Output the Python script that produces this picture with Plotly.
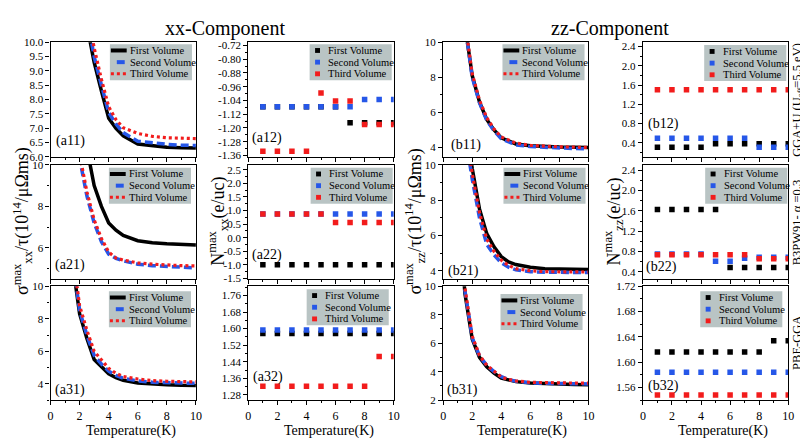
import plotly.graph_objects as go

W, H = 808, 438

# ---------------- data ----------------
T_CURVE = [1, 1.5, 2, 2.5, 3, 3.5, 4, 4.5, 5, 6, 7, 8, 9, 10]
T_POINTS = [1, 2, 3, 4, 5, 6, 7, 8, 9, 10]
SERIES = ["First Volume", "Second Volume", "Third Volume"]

# sigma_xx^max / tau  (xx-component)
a11_first = [30, 20, 13.5, 10.6, 9.3, 8.3, 7.35, 7.0, 6.74, 6.45, 6.38, 6.34, 6.32, 6.31]
a11_second = [30, 20, 14.0, 10.9, 9.5, 8.5, 7.55, 7.15, 6.85, 6.55, 6.48, 6.44, 6.41, 6.40]
a11_third = [30, 20, 14.5, 11.2, 9.8, 8.7, 7.75, 7.3, 7.02, 6.82, 6.72, 6.67, 6.65, 6.64]

a21_first = [30, 20, 14.0, 10.8, 9.0, 8.0, 7.2, 6.85, 6.6, 6.35, 6.25, 6.2, 6.16, 6.14]
a21_second = [30, 16.0, 10.3, 8.5, 7.2, 6.3, 5.7, 5.5, 5.38, 5.22, 5.15, 5.1, 5.06, 5.04]
a21_third = [30, 16.5, 10.5, 8.7, 7.35, 6.45, 5.8, 5.52, 5.42, 5.28, 5.22, 5.18, 5.15, 5.14]

a31_first = [20, 11.5, 8.3, 6.8, 5.5, 5.05, 4.62, 4.38, 4.22, 4.05, 3.98, 3.94, 3.91, 3.9]
a31_second = [20, 11.8, 8.5, 7.0, 5.75, 5.22, 4.78, 4.52, 4.35, 4.18, 4.1, 4.06, 4.04, 4.03]
a31_third = [20, 12.2, 8.8, 7.3, 6.0, 5.45, 4.95, 4.65, 4.45, 4.3, 4.2, 4.16, 4.13, 4.12]

# sigma_zz^max / tau  (zz-component)
b11_first = [25, 11.0, 8.1, 6.6, 5.6, 5.0, 4.55, 4.35, 4.2, 4.1, 4.05, 4.03, 4.02, 4.0]
b11_second = [25, 11.0, 8.0, 6.55, 5.55, 4.95, 4.5, 4.3, 4.15, 4.05, 4.0, 3.96, 3.94, 3.92]
b11_third = [25, 11.2, 8.2, 6.7, 5.7, 5.05, 4.6, 4.4, 4.25, 4.12, 4.07, 4.04, 4.02, 4.0]

b21_first = [25, 12.5, 9.8, 7.5, 6.1, 5.35, 4.8, 4.5, 4.35, 4.2, 4.12, 4.1, 4.08, 4.07]
b21_second = [25, 11.8, 9.2, 7.0, 5.5, 4.9, 4.45, 4.2, 4.05, 3.95, 3.92, 3.9, 3.9, 3.9]
b21_third = [25, 12.2, 9.5, 7.3, 5.8, 5.1, 4.6, 4.3, 4.12, 4.0, 3.95, 3.93, 3.93, 3.93]

b31_first = [16, 9.5, 6.3, 5.0, 4.35, 3.9, 3.55, 3.4, 3.3, 3.2, 3.15, 3.12, 3.1, 3.08]
b31_second = [16.5, 9.7, 6.4, 5.1, 4.45, 4.0, 3.65, 3.45, 3.33, 3.22, 3.18, 3.15, 3.14, 3.14]
b31_third = [17, 9.9, 6.5, 5.15, 4.45, 4.0, 3.62, 3.45, 3.35, 3.25, 3.22, 3.2, 3.2, 3.2]

# N_xx^max (e/uc)
a12_first = [-1.077, -1.077, -1.077, -1.077, -1.077, -1.077, -1.17, -1.17, -1.17, -1.17]
a12_second = [-1.077, -1.077, -1.077, -1.077, -1.077, -1.077, -1.077, -1.035, -1.035, -1.035]
a12_third = [-1.336, -1.336, -1.336, -1.336, -0.996, -1.043, -1.043, -1.18, -1.18, -1.18]

a22_first = [-0.99, -0.99, -0.99, -0.99, -0.99, -0.99, -0.99, -0.99, -0.99, -0.99]
a22_second = [0.87, 0.87, 0.87, 0.87, 0.87, 0.87, 0.87, 0.87, 0.87, 0.87]
a22_third = [0.87, 0.87, 0.87, 0.87, 0.87, 0.56, 0.56, 0.56, 0.56, 0.56]

a32_first = [1.576, 1.576, 1.576, 1.576, 1.576, 1.576, 1.576, 1.576, 1.576, 1.576]
a32_second = [1.593, 1.593, 1.593, 1.593, 1.593, 1.593, 1.593, 1.593, 1.593, 1.593]
a32_third = [1.322, 1.322, 1.322, 1.322, 1.322, 1.322, 1.322, 1.322, 1.465, 1.465]

# N_zz^max (e/uc)
b12_first = [0.306, 0.306, 0.306, 0.306, 0.38, 0.38, 0.38, 0.38, 0.38, 0.38]
b12_second = [0.495, 0.495, 0.495, 0.495, 0.495, 0.495, 0.495, 0.306, 0.306, 0.306]
b12_third = [1.5, 1.5, 1.5, 1.5, 1.5, 1.5, 1.5, 1.5, 1.5, 1.5]

b22_first = [1.627, 1.627, 1.627, 1.627, 1.627, 0.483, 0.483, 0.483, 0.483, 0.483]
b22_second = [0.752, 0.752, 0.752, 0.752, 0.605, 0.605, 0.668, 0.687, 0.687, 0.687]
b22_third = [0.733, 0.733, 0.733, 0.733, 0.733, 0.733, 0.733, 0.655, 0.655, 0.655]

b32_first = [1.616, 1.616, 1.616, 1.616, 1.616, 1.616, 1.616, 1.616, 1.634, 1.634]
b32_second = [1.584, 1.584, 1.584, 1.584, 1.584, 1.584, 1.584, 1.584, 1.584, 1.584]
b32_third = [1.548, 1.548, 1.548, 1.548, 1.548, 1.548, 1.548, 1.548, 1.548, 1.548]

# tick labels
x_ticks = [0, 2, 4, 6, 8, 10]
x_labels = ["0", "2", "4", "6", "8", "10"]
a11_yticks = [6.0, 6.5, 7.0, 7.5, 8.0, 8.5, 9.0, 9.5, 10.0]
a11_ylabels = ["6.0", "6.5", "7.0", "7.5", "8.0", "8.5", "9.0", "9.5", "10.0"]
a21_yticks = [6, 8, 10]
a21_ylabels = ["6", "8", "10"]
a31_yticks = [4, 6, 8, 10]
a31_ylabels = ["4", "6", "8", "10"]
b11_yticks = [4, 6, 8, 10]
b11_ylabels = ["4", "6", "8", "10"]
b21_yticks = [4, 6, 8, 10]
b21_ylabels = ["4", "6", "8", "10"]
b31_yticks = [2, 4, 6, 8, 10]
b31_ylabels = ["2", "4", "6", "8", "10"]
a12_yticks = [-1.36, -1.28, -1.20, -1.12, -1.04, -0.96, -0.88, -0.80, -0.72]
a12_ylabels = ["-1.36", "-1.28", "-1.20", "-1.12", "-1.04", "-0.96", "-0.88", "-0.80", "-0.72"]
a22_yticks = [-1.5, -1.0, -0.5, 0.0, 0.5, 1.0, 1.5, 2.0, 2.5]
a22_ylabels = ["-1.5", "-1.0", "-0.5", "0.0", "0.5", "1.0", "1.5", "2.0", "2.5"]
a32_yticks = [1.28, 1.36, 1.44, 1.52, 1.60, 1.68, 1.76]
a32_ylabels = ["1.28", "1.36", "1.44", "1.52", "1.60", "1.68", "1.76"]
b12_yticks = [0.4, 0.8, 1.2, 1.6, 2.0, 2.4]
b12_ylabels = ["0.4", "0.8", "1.2", "1.6", "2.0", "2.4"]
b22_yticks = [0.4, 0.8, 1.2, 1.6, 2.0, 2.4]
b22_ylabels = ["0.4", "0.8", "1.2", "1.6", "2.0", "2.4"]
b32_yticks = [1.56, 1.60, 1.64, 1.68, 1.72]
b32_ylabels = ["1.56", "1.60", "1.64", "1.68", "1.72"]

# ---------------- layout config ----------------
FONT = "Liberation Serif, Times New Roman, DejaVu Serif, serif"
BLUE = "#2657e8"
RED = "#f21c1c"
LEG_BG = "#b9c4c4"
COLS_PX = [(40, 187), (240, 387), (437, 584), (639, 786)]
ROWS_PX = [(29, 147), (155, 272), (280, 397)]

panels = [
    # row 0
    dict(lab="(a11)", kind="line", ys=(a11_first, a11_second, a11_third), yr=[6.0, 10.0],
         tv=a11_yticks, tt=a11_ylabels, minor=None, leg=(100, 31), labpx=(60, 131)),
    dict(lab="(a12)", kind="pts", ys=(a12_first, a12_second, a12_third), yr=[-1.369, -0.701],
         tv=a12_yticks, tt=a12_ylabels, minor=(-1.36, 0.04), leg=(302, 31), labpx=(259, 127)),
    dict(lab="(b11)", kind="line", ys=(b11_first, b11_second, b11_third), yr=[3.46, 10.0],
         tv=b11_yticks, tt=b11_ylabels, minor=(4, 1), leg=(497, 31), labpx=(460, 135)),
    dict(lab="(b12)", kind="pts", ys=(b12_first, b12_second, b12_third), yr=[0.104, 2.49],
         tv=b12_yticks, tt=b12_ylabels, minor=(0.4, 0.2), leg=(701, 32), labpx=(660, 113)),
    # row 1
    dict(lab="(a21)", kind="line", ys=(a21_first, a21_second, a21_third), yr=[4.53, 10.0],
         tv=a21_yticks, tt=a21_ylabels, minor=(6, 1), leg=(99, 158), labpx=(60, 258)),
    dict(lab="(a22)", kind="pts", ys=(a22_first, a22_second, a22_third), yr=[-1.5, 2.68],
         tv=a22_yticks, tt=a22_ylabels, minor=(-1.5, 0.25), leg=(303, 158), labpx=(259, 248)),
    dict(lab="(b21)", kind="line", ys=(b21_first, b21_second, b21_third), yr=[3.56, 10.0],
         tv=b21_yticks, tt=b21_ylabels, minor=(4, 1), leg=(498, 158), labpx=(458, 264)),
    dict(lab="(b22)", kind="pts", ys=(b22_first, b22_second, b22_third), yr=[0.266, 2.51],
         tv=b22_yticks, tt=b22_ylabels, minor=(0.4, 0.2), leg=(702, 158), labpx=(658, 260)),
    # row 2
    dict(lab="(a31)", kind="line", ys=(a31_first, a31_second, a31_third), yr=[3.0, 10.0],
         tv=a31_yticks, tt=a31_ylabels, minor=(4, 1), leg=(99, 285), labpx=(60, 387)),
    dict(lab="(a32)", kind="pts", ys=(a32_first, a32_second, a32_third), yr=[1.255, 1.804],
         tv=a32_yticks, tt=a32_ylabels, minor=(1.28, 0.04), leg=(299, 283), labpx=(260, 373)),
    dict(lab="(b31)", kind="line", ys=(b31_first, b31_second, b31_third), yr=[2.0, 10.0],
         tv=b31_yticks, tt=b31_ylabels, minor=(2, 1), leg=(495, 288), labpx=(457, 387)),
    dict(lab="(b32)", kind="pts", ys=(b32_first, b32_second, b32_third), yr=[1.54, 1.72],
         tv=b32_yticks, tt=b32_ylabels, minor=(1.56, 0.02), leg=(697, 285), labpx=(660, 382)),
]

LINE_STYLES = [
    dict(color="black", width=3.5),
    dict(color=BLUE, width=3.5, dash="8px,4px"),
    dict(color=RED, width=3.2, dash="3px,3px"),
]
MARKER_COLORS = ["black", BLUE, RED]


def fx(px):
    return px / W


def fy(py):
    return 1 - py / H


fig = go.Figure()
layout = dict(
    width=W, height=H, margin=dict(l=0, r=0, t=0, b=0),
    paper_bgcolor="white", plot_bgcolor="white",
    font=dict(family=FONT, color="black", size=11),
    showlegend=False,
)
shapes = []
annotations = []

for k, p in enumerate(panels):
    r, c = divmod(k, 4)
    idx = k + 1
    xs = "x" if idx == 1 else f"x{idx}"
    ysn = "y" if idx == 1 else f"y{idx}"
    xkey = "xaxis" if idx == 1 else f"xaxis{idx}"
    ykey = "yaxis" if idx == 1 else f"yaxis{idx}"
    l, rr = COLS_PX[c]
    t, b = ROWS_PX[r]

    for s, vals in enumerate(p["ys"]):
        if p["kind"] == "line":
            fig.add_trace(go.Scatter(x=T_CURVE, y=vals, mode="lines", name=SERIES[s],
                                     line=LINE_STYLES[s], xaxis=xs, yaxis=ysn,
                                     hoverinfo="skip"))
        else:
            fig.add_trace(go.Scatter(x=T_POINTS, y=vals, mode="markers", name=SERIES[s],
                                     marker=dict(symbol="square", size=5.5,
                                                 color=MARKER_COLORS[s], line=dict(width=0)),
                                     xaxis=xs, yaxis=ysn, hoverinfo="skip"))

    layout[xkey] = dict(
        domain=[fx(l), fx(rr)], anchor=ysn, range=[0, 10],
        tickmode="array", tickvals=x_ticks, ticktext=x_labels,
        showticklabels=(r == 2), ticks="outside", ticklen=4, tickwidth=1,
        tickcolor="black", showline=True, linecolor="black", linewidth=1.3,
        mirror=True, showgrid=False, zeroline=False,
        tickfont=dict(family=FONT, size=12),
        minor=dict(tickmode="linear", tick0=1, dtick=2, ticks="outside",
                   ticklen=2, tickwidth=1, tickcolor="black"),
    )
    yax = dict(
        domain=[fy(b), fy(t)], anchor=xs, range=p["yr"],
        tickmode="array", tickvals=p["tv"], ticktext=p["tt"],
        ticks="outside", ticklen=4, tickwidth=1, tickcolor="black",
        showline=True, linecolor="black", linewidth=1.3, mirror=True,
        showgrid=False, zeroline=False, tickfont=dict(family=FONT, size=11),
    )
    if p["minor"]:
        yax["minor"] = dict(tickmode="linear", tick0=p["minor"][0], dtick=p["minor"][1],
                            ticks="outside", ticklen=2, tickwidth=1, tickcolor="black")
    layout[ykey] = yax

    # panel label
    annotations.append(dict(text=p["lab"], x=fx(p["labpx"][0]), y=fy(p["labpx"][1]),
                            xref="paper", yref="paper", showarrow=False,
                            xanchor="center", yanchor="middle",
                            font=dict(family=FONT, size=14)))

    # legend box
    bx, by = p["leg"]
    shapes.append(dict(type="rect", xref="paper", yref="paper",
                       x0=fx(bx), x1=fx(bx + 83), y0=fy(by + 37), y1=fy(by),
                       fillcolor=LEG_BG, line=dict(width=0), layer="above"))
    for s in range(3):
        ry = by + 6.5 + 12 * s
        if p["kind"] == "line":
            if s == 0:
                shapes.append(dict(type="line", xref="paper", yref="paper",
                                   x0=fx(bx + 1), x1=fx(bx + 17), y0=fy(ry), y1=fy(ry),
                                   line=dict(color="black", width=4), layer="above"))
            elif s == 1:
                shapes.append(dict(type="line", xref="paper", yref="paper",
                                   x0=fx(bx + 7), x1=fx(bx + 15), y0=fy(ry), y1=fy(ry),
                                   line=dict(color=BLUE, width=4), layer="above"))
            else:
                shapes.append(dict(type="line", xref="paper", yref="paper",
                                   x0=fx(bx + 1), x1=fx(bx + 17), y0=fy(ry), y1=fy(ry),
                                   line=dict(color=RED, width=3, dash="3px,3px"),
                                   layer="above"))
            tx = bx + 18
        else:
            shapes.append(dict(type="rect", xref="paper", yref="paper",
                               x0=fx(bx + 5.5), x1=fx(bx + 10.5),
                               y0=fy(ry + 2.5), y1=fy(ry - 2.5),
                               fillcolor=MARKER_COLORS[s], line=dict(width=0),
                               layer="above"))
            tx = bx + 17
        annotations.append(dict(text=SERIES[s], x=fx(tx), y=fy(ry), xref="paper",
                                yref="paper", showarrow=False, xanchor="left",
                                yanchor="middle", font=dict(family=FONT, size=10.5)))

# x-axis titles
for cx in [121, 322, 517, 720]:
    annotations.append(dict(text="Temperature(K)", x=fx(cx), y=fy(429), xref="paper",
                            yref="paper", showarrow=False, xanchor="center",
                            yanchor="middle", font=dict(family=FONT, size=14)))

# y-axis titles
ytitles = [
    ("σ<sup>max</sup><sub>xx</sub>/τ(10<sup>14</sup>/μΩms)", 11),
    ("N<sup>max</sup><sub>xx</sub>(e/uc)", 209),
    ("σ<sup>max</sup><sub>zz</sub>/τ(10<sup>14</sup>/μΩms)", 408),
    ("N<sup>max</sup><sub>zz</sub>(e/uc)", 609),
]
for txt, cx in ytitles:
    annotations.append(dict(text=txt, x=fx(cx), y=fy(213), xref="paper", yref="paper",
                            showarrow=False, textangle=-90, xanchor="center",
                            yanchor="middle", borderpad=0,
                            font=dict(family=FONT, size=18)))

# method labels on the right
methods = [("GGA+U (U<sub>eff</sub>=5.5 eV)", 88), ("B3PW91- α =0.3", 215), ("PBE-GGA", 338)]
for txt, cy in methods:
    annotations.append(dict(text=txt, x=fx(795), y=fy(cy), xref="paper", yref="paper",
                            showarrow=False, textangle=-90, xanchor="center",
                            yanchor="middle", borderpad=0,
                            font=dict(family=FONT, size=12.5)))

# column titles
annotations.append(dict(text="xx-Component", x=fx(216), y=fy(15), xref="paper", yref="paper",
                        showarrow=False, xanchor="center", yanchor="middle",
                        font=dict(family=FONT, size=20)))
annotations.append(dict(text="zz-Component", x=fx(606), y=fy(15), xref="paper", yref="paper",
                        showarrow=False, xanchor="center", yanchor="middle",
                        font=dict(family=FONT, size=20)))

layout["shapes"] = shapes
layout["annotations"] = annotations
fig.update_layout(**layout)
fig.write_html("out.html")
